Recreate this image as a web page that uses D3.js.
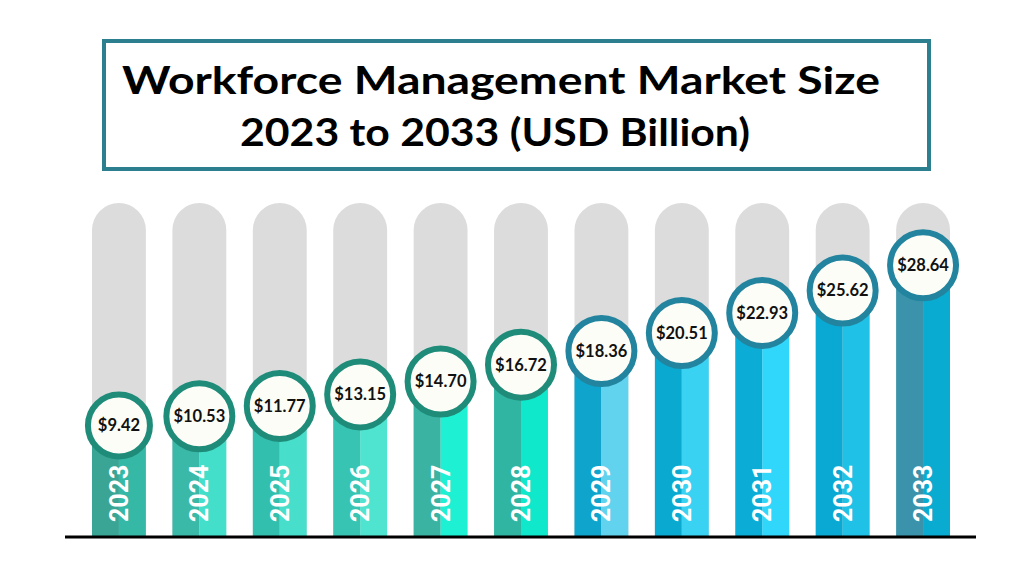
<!DOCTYPE html>
<html>
<head>
<meta charset="utf-8">
<script src="https://cdn.jsdelivr.net/npm/d3@7"></script>
<style>
  html, body { margin: 0; padding: 0; background: #ffffff; }
  svg { display: block; }
</style>
</head>
<body>
<svg id="chart" width="1024" height="576"></svg>
<script>
// chart data
const years = ["2023", "2024", "2025", "2026", "2027", "2028", "2029", "2030", "2031", "2032", "2033"];
const values = [9.42, 10.53, 11.77, 13.15, 14.70, 16.72, 18.36, 20.51, 22.93, 25.62, 28.64];
const titleLines = ["Workforce Management Market Size", "2023 to 2033 (USD Billion)"];

// two tone fills, left half / right half of every bar
const darkTone = ["#3aa595", "#3ab8a8", "#33bfae", "#38c4b2", "#3ab3a2", "#30b5a2",
                  "#0ea4cc", "#0aa9d0", "#0badd6", "#0aa9d3", "#3a93aa"];
const lightTone = ["#35b9a6", "#44dfca", "#47dfcb", "#4fe4d0", "#1ef0d3", "#10e8cc",
                   "#62d3ee", "#3ad2f3", "#30d7fb", "#1fc2e6", "#0aabd0"];
const ringColor = d => +d.year <= 2028 ? "#1f8c7a" : "#22849e";

const baseY = 537, trackTop = 203;

const svg = d3.select("#chart");

const data = years.map((y, i) => ({ year: y, value: values[i], i: i }));

let x = d3.scaleBand()
    .domain(years)
    .range([92, 950])
    .paddingInner(0.33)
    .paddingOuter(0);

let y = d3.scaleLinear()
    .domain([0, 30])
    .range([504, 254]);

const bw = x.bandwidth();
const r = bw / 2;

// title box
svg.append("rect")
    .attr("x", 104)
    .attr("y", 41)
    .attr("width", 825)
    .attr("height", 128)
    .attr("fill", "#ffffff")
    .attr("stroke", "#2b7f8e")
    .attr("stroke-width", 4);

svg.selectAll("text.title")
    .data(titleLines)
    .enter()
    .append("text")
    .attr("class", "title")
    .attr("x", (d, i) => i == 0 ? 501 : 495)
    .attr("y", (d, i) => 94 + i * 52)
    .attr("text-anchor", "middle")
    .attr("font-family", "Lato, 'Open Sans', sans-serif")
    .attr("font-weight", 700)
    .attr("font-size", 38)
    .attr("fill", "#000")
    .attr("textLength", (d, i) => i == 0 ? 758 : 510)
    .attr("lengthAdjust", "spacingAndGlyphs")
    .text(d => d);

// grey tracks with a rounded top
svg.append("g")
    .selectAll("path")
    .data(data)
    .enter()
    .append("path")
    .attr("fill", "#dcdcdc")
    .attr("d", d => {
        const x0 = x(d.year);
        return `M${x0},${baseY}V${trackTop + r}A${r},${r} 0 0 1 ${x0 + bw},${trackTop + r}V${baseY}Z`;
    });

// value bars, drawn as two halves
const bars = svg.append("g");
bars.selectAll("rect.left")
    .data(data)
    .enter()
    .append("rect")
    .attr("class", "left")
    .attr("x", d => x(d.year))
    .attr("y", d => y(d.value))
    .attr("width", bw / 2)
    .attr("height", d => baseY - y(d.value))
    .attr("fill", d => darkTone[d.i]);

bars.selectAll("rect.right")
    .data(data)
    .enter()
    .append("rect")
    .attr("class", "right")
    .attr("x", d => x(d.year) + bw / 2)
    .attr("y", d => y(d.value))
    .attr("width", bw / 2)
    .attr("height", d => baseY - y(d.value))
    .attr("fill", d => lightTone[d.i]);

// year labels, rotated
svg.append("g")
    .selectAll("text")
    .data(data)
    .enter()
    .append("text")
    .attr("transform", d => `translate(${x(d.year) + bw / 2},${baseY - 15}) rotate(-90)`)
    .attr("dy", "0.36em")
    .attr("text-anchor", "start")
    .attr("font-family", "Roboto, sans-serif")
    .attr("font-weight", 700)
    .attr("font-size", 25)
    .attr("fill", "#ffffff")
    .text(d => d.year);

// axis line
svg.append("line")
    .attr("x1", 65)
    .attr("x2", 976)
    .attr("y1", baseY)
    .attr("y2", baseY)
    .attr("stroke", "#000")
    .attr("stroke-width", 3);

// bubbles with the values
const bubbles = svg.append("g")
    .selectAll("g")
    .data(data)
    .enter()
    .append("g")
    .attr("transform", d => `translate(${x(d.year) + bw / 2},${y(d.value)})`);

bubbles.append("circle")
    .attr("r", d => d.i == 0 ? 31 : 33)
    .attr("fill", "#fdfdf7")
    .attr("stroke", ringColor)
    .attr("stroke-width", 6);

bubbles.append("text")
    .attr("text-anchor", "middle")
    .attr("dy", "0.36em")
    .attr("font-family", "Lato, sans-serif")
    .attr("font-weight", 700)
    .attr("font-size", 16.5)
    .attr("fill", "#111")
    .text(d => "$" + d3.format(".2f")(d.value));
</script>
</body>
</html>
